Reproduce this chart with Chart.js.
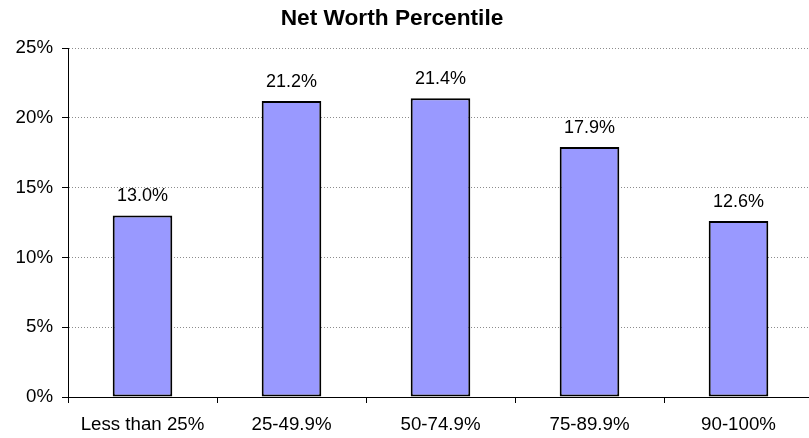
<!DOCTYPE html>
<html>
<head>
<meta charset="utf-8">
<script src="https://cdn.jsdelivr.net/npm/chart.js@4"></script>
<style>
  html, body { margin: 0; padding: 0; background: #fff; overflow: hidden; }
  .wrap { position: relative; width: 816px; height: 438px; }
  .chart-title {
    position: absolute; left: 0; top: 4px; width: 784px;
    text-align: center; font: bold 22.7px "Liberation Sans", Arial, sans-serif;
    line-height: 26px; color: #000;
  }
</style>
</head>
<body>
<div class="wrap">
  <div class="chart-title">Net Worth Percentile</div>
  <canvas id="netWorth" width="816" height="438"></canvas>
</div>
<script>
const categories = ['Less than 25%', '25-49.9%', '50-74.9%', '75-89.9%', '90-100%'];
const percentValues = [13.0, 21.2, 21.4, 17.9, 12.6];
const yTicks = [0, 5, 10, 15, 20, 25];

const fontFamily = '"Liberation Sans", Arial, sans-serif';

// value labels above each bar
const barLabels = {
  id: 'barLabels',
  afterDatasetsDraw(chart) {
    const ctx = chart.ctx;
    const meta = chart.getDatasetMeta(0);
    ctx.save();
    ctx.font = '18px ' + fontFamily;
    ctx.fillStyle = '#000';
    ctx.textAlign = 'center';
    ctx.textBaseline = 'middle';
    meta.data.forEach((bar, i) => {
      ctx.fillText(percentValues[i].toFixed(1) + '%', bar.x, bar.y - 19);
    });
    ctx.restore();
  }
};

const ctx = document.getElementById('netWorth');

const netWorthChart = new Chart(ctx, {
  type: 'bar',
  data: {
    labels: categories,
    datasets: [{
      data: percentValues,
      backgroundColor: '#9999ff',
      borderColor: '#000',
      borderWidth: 2,
      borderSkipped: false,
      barPercentage: 0.4,
      categoryPercentage: 1
    }]
  },
  options: {
    responsive: false,
    animation: false,
    events: [],
    layout: { padding: { top: 48, right: 3, bottom: 0, left: 0 } },
    plugins: {
      legend: { display: false },
      tooltip: { enabled: false },
      title: { display: false }
    },
    scales: {
      x: {
        offset: true,
        grid: {
          offset: true,
          drawOnChartArea: false,
          tickLength: 6,
          color: '#000',
          lineWidth: 1
        },
        border: { color: '#000', width: 1 },
        ticks: {
          color: '#000',
          padding: 11,
          maxRotation: 0,
          font: { family: fontFamily, size: 18.7 }
        },
        afterFit(scale) { scale.height = 41; }
      },
      y: {
        min: 0,
        max: 25,
        afterBuildTicks(scale) {
          scale.ticks = yTicks.map(v => ({ value: v }));
        },
        grid: {
          color: (c) => c.tick && c.tick.value === 0 ? 'rgba(0,0,0,0)' : '#8c8c8c',
          tickColor: '#000',
          tickLength: 6,
          lineWidth: 1
        },
        border: { color: '#000', width: 1, dash: [1, 2] },
        ticks: {
          color: '#000',
          padding: 9,
          font: { family: fontFamily, size: 18.7 },
          callback: (v) => v + '%'
        },
        afterFit(scale) { scale.width = 68; }
      }
    }
  },
  plugins: [barLabels]
});
</script>
</body>
</html>
